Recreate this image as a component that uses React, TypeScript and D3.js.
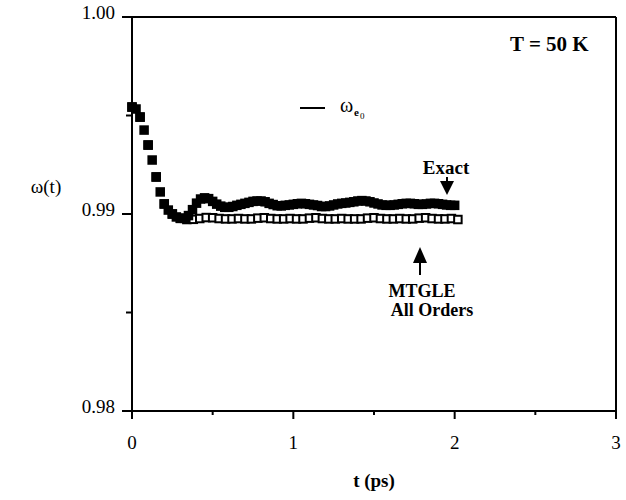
import React from "react";
import * as d3 from "d3";

// Exact (filled squares), dt = 0.025 ps
const exactT: number[] = d3.range(0, 81).map((i) => +(i * 0.025).toFixed(3));
const exactW: number[] = [
  0.99543, 0.99533, 0.99492, 0.99426, 0.9935, 0.99274, 0.99188, 0.99112, 0.99051, 0.9902,
  0.99, 0.98985, 0.98978, 0.98978, 0.98992, 0.99022, 0.99055, 0.99076, 0.99082, 0.99078,
  0.99064, 0.9905, 0.9904, 0.99034, 0.99034, 0.99038, 0.99044, 0.99049, 0.99054, 0.99059,
  0.99064, 0.99066, 0.99066, 0.99062, 0.99054, 0.99048, 0.99042, 0.99041, 0.99044, 0.99046,
  0.99049, 0.99052, 0.99054, 0.99052, 0.99049, 0.99046, 0.99043, 0.99038, 0.99038, 0.99041,
  0.99046, 0.99051, 0.99054, 0.99056, 0.99059, 0.99062, 0.99066, 0.99068, 0.99066, 0.99062,
  0.99056, 0.99051, 0.99046, 0.99044, 0.99044, 0.99046, 0.99049, 0.99052, 0.99054, 0.99054,
  0.99052, 0.99049, 0.99049, 0.99051, 0.99054, 0.99054, 0.99052, 0.99049, 0.99046, 0.99044,
  0.99044,
];

// MTGLE All Orders (open squares)
const mtgleT: number[] = [0, 0.05, 0.1, 0.15, 0.2, 0.25].concat(
  d3.range(0, 44).map((k) => +(0.3 + k * 0.04).toFixed(3))
);
const mtgleW: number[] = [
  0.99543, 0.99492, 0.9935, 0.99188, 0.99051, 0.99,
  0.98978, 0.98972, 0.98973, 0.98977, 0.98982, 0.98981, 0.98977, 0.98975, 0.98975, 0.98977,
  0.98975, 0.98975, 0.98979, 0.98981, 0.98977, 0.98975, 0.98975, 0.98977, 0.98975, 0.98975,
  0.98979, 0.98981, 0.98977, 0.98975, 0.98975, 0.98977, 0.98975, 0.98975, 0.98975, 0.98979,
  0.98981, 0.98977, 0.98975, 0.98975, 0.98977, 0.98975, 0.98975, 0.98979, 0.98981, 0.98977,
  0.98975, 0.98975, 0.98977, 0.98972,
];

const xMajor: number[] = [0, 1, 2, 3];
const xMinor: number[] = [0.5, 1.5, 2.5];
const yMajor: number[] = [0.98, 0.99, 1.0];
const yMinor: number[] = [0.985, 0.995];
const yTickLabels: string[] = ["0.98", "0.99", "1.00"];
const xTickLabels: string[] = ["0", "1", "2", "3"];

export default function App() {
  const W = 626;
  const H = 500;
  const x = d3.scaleLinear().domain([0, 3]).range([132, 616]);
  const y = d3.scaleLinear().domain([0.98, 1.0]).range([411, 17]);
  const serif = "Liberation Serif";
  const fS = 9.5; // filled marker size
  const oS = 7.5; // open marker size

  return (
    <svg width={W} height={H} style={{ position: "absolute", left: 0, top: 0, background: "#fff" }}>
      <rect x={0} y={0} width={W} height={H} fill="#fff" />
      {/* frame */}
      <line x1={122} x2={616} y1={y(1.0)} y2={y(1.0)} stroke="#000" strokeWidth={2} />
      <line x1={122} x2={617} y1={y(0.98)} y2={y(0.98)} stroke="#000" strokeWidth={2} />
      <line x1={x(0)} x2={x(0)} y1={y(1.0)} y2={y(0.98) + 8} stroke="#000" strokeWidth={2} />
      <line x1={x(3)} x2={x(3)} y1={y(1.0)} y2={y(0.98) + 8} stroke="#000" strokeWidth={2} />
      {/* x ticks */}
      {xMajor.map((v) => (
        <line key={"xm" + v} x1={x(v)} x2={x(v)} y1={y(0.98)} y2={y(0.98) + 8} stroke="#000" strokeWidth={2} />
      ))}
      {xMinor.map((v) => (
        <line key={"xn" + v} x1={x(v)} x2={x(v)} y1={y(0.98)} y2={y(0.98) + 4} stroke="#000" strokeWidth={2} />
      ))}
      {xMajor.map((v, i) => (
        <text key={"xl" + v} x={x(v)} y={449} textAnchor="middle" fontFamily={serif} fontSize={19}>
          {xTickLabels[i]}
        </text>
      ))}
      {/* y ticks */}
      {yMajor.map((v) => (
        <line key={"ym" + v} x1={122} x2={x(0)} y1={y(v)} y2={y(v)} stroke="#000" strokeWidth={2} />
      ))}
      {yMinor.map((v) => (
        <line key={"yn" + v} x1={126} x2={x(0)} y1={y(v)} y2={y(v)} stroke="#000" strokeWidth={2} />
      ))}
      {yMajor.map((v, i) => (
        <text key={"yl" + v} x={115} y={y(v) + 2} textAnchor="end" fontFamily={serif} fontSize={19}>
          {yTickLabels[i]}
        </text>
      ))}
      {/* axis titles */}
      <text x={46} y={193} textAnchor="middle" fontFamily={serif} fontSize={19}>
        ω(t)
      </text>
      <text x={374} y={487} textAnchor="middle" fontFamily={serif} fontSize={19} fontWeight="bold">
        t (ps)
      </text>
      <text x={510} y={51} fontFamily={serif} fontSize={21} fontWeight="bold">
        T = 50 K
      </text>
      {/* legend */}
      <line x1={300} x2={325} y1={108} y2={108} stroke="#000" strokeWidth={2} />
      <text x={340} y={112} fontFamily={serif} fontSize={20}>
        ω
      </text>
      <text x={354} y={116} fontFamily={serif} fontSize={11} fontWeight="bold">
        e
      </text>
      <text x={360} y={119} fontFamily={serif} fontSize={9}>
        0
      </text>
      {/* MTGLE open squares */}
      {mtgleT.map((t, i) => (
        <rect
          key={"o" + i}
          x={x(t) - oS / 2}
          y={y(mtgleW[i]) - oS / 2}
          width={oS}
          height={oS}
          fill="#fff"
          stroke="#000"
          strokeWidth={2}
        />
      ))}
      {/* Exact filled squares */}
      {exactT.map((t, i) => (
        <rect key={"f" + i} x={x(t) - fS / 2} y={y(exactW[i]) - fS / 2} width={fS} height={fS} fill="#000" />
      ))}
      {/* annotations */}
      <text x={446} y={174} textAnchor="middle" fontFamily={serif} fontSize={19} fontWeight="bold">
        Exact
      </text>
      <line x1={447} x2={447} y1={177} y2={184} stroke="#000" strokeWidth={2} />
      <path d="M440,181 L454,181 L447,195 Z" fill="#000" />
      <line x1={420} x2={420} y1={258} y2={275} stroke="#000" strokeWidth={2} />
      <path d="M413,263 L427,263 L420,247 Z" fill="#000" />
      <text x={422} y={297} textAnchor="middle" fontFamily={serif} fontSize={18} fontWeight="bold">
        MTGLE
      </text>
      <text x={432} y={316} textAnchor="middle" fontFamily={serif} fontSize={18} fontWeight="bold">
        All Orders
      </text>
    </svg>
  );
}
